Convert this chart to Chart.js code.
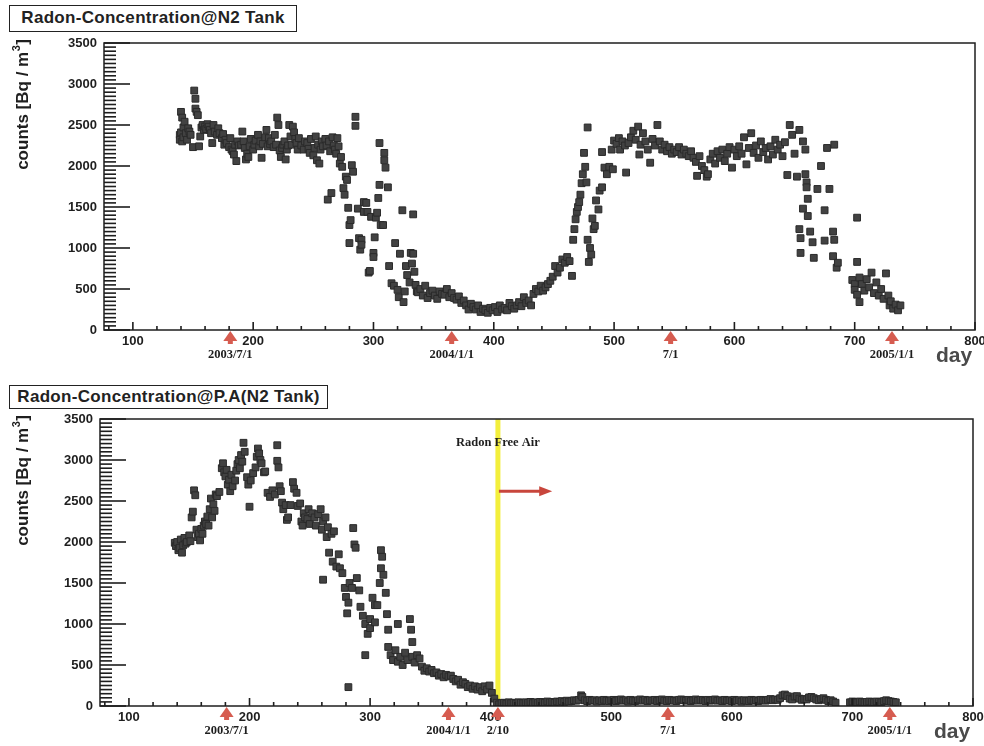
<!DOCTYPE html>
<html>
<head>
<meta charset="utf-8">
<title>Radon concentration</title>
<script src="https://cdn.jsdelivr.net/npm/chart.js@4.4.1/dist/chart.umd.min.js"></script>
<style>
  html, body { margin: 0; padding: 0; background: #fff; }
  body { width: 984px; height: 746px; position: relative; overflow: hidden; font-family: "Liberation Sans", Arial, sans-serif; }
  .panel { position: absolute; left: 0; width: 984px; }
  .title-box {
    position: absolute; z-index: 2; box-sizing: border-box;
    border: 1.5px solid #222; background: #fff; color: #222;
    font-weight: bold; text-align: center; white-space: nowrap;
  }
</style>
</head>
<body>
<div class="title-box" style="left:9px;top:5px;width:288px;height:27px;font-size:17px;line-height:24px;letter-spacing:0.3px;">Radon-Concentration@N2 Tank</div>
<div class="title-box" style="left:9px;top:385px;width:319px;height:24px;font-size:17px;line-height:21px;letter-spacing:0.3px;">Radon-Concentration@P.A(N2 Tank)</div>
<div class="panel" style="top:0;height:375px"><canvas id="tankChart"></canvas></div>
<div class="panel" style="top:375px;height:371px"><canvas id="paChart"></canvas></div>

<script>
// [day, counts in Bq/m3] -- radon in the N2 tank
const n2Tank = [
  [139, 2380], [139, 2320], [140, 2660], [140, 2410], [141, 2590], [141, 2300], [142, 2470], [142, 2350],
  [143, 2540], [144, 2400], [145, 2320], [146, 2460], [147, 2420], [148, 2380], [150, 2230], [151, 2920],
  [152, 2820], [152, 2700], [153, 2660], [154, 2620], [155, 2240], [156, 2360], [157, 2470], [158, 2500],
  [159, 2440], [160, 2480], [161, 2450], [162, 2510], [163, 2480], [164, 2440], [165, 2400], [166, 2280],
  [167, 2500], [168, 2420], [170, 2380], [171, 2460], [172, 2400], [174, 2340], [175, 2390], [176, 2260],
  [177, 2320], [178, 2280], [180, 2230], [181, 2340], [182, 2200], [183, 2180], [184, 2140], [185, 2260],
  [186, 2060], [187, 2300], [188, 2250], [190, 2260], [191, 2420], [192, 2300], [193, 2220], [194, 2080],
  [195, 2150], [196, 2110], [197, 2240], [198, 2330], [200, 2200], [201, 2260], [202, 2310], [204, 2380],
  [205, 2240], [206, 2300], [207, 2100], [208, 2270], [210, 2350], [211, 2440], [212, 2240], [213, 2340],
  [214, 2270], [215, 2300], [217, 2230], [218, 2380], [219, 2260], [220, 2590], [221, 2500], [222, 2190],
  [223, 2110], [224, 2220], [225, 2260], [226, 2300], [227, 2080], [228, 2200], [229, 2250], [230, 2500],
  [231, 2360], [232, 2260], [233, 2480], [234, 2410], [235, 2330], [236, 2280], [237, 2200], [238, 2340],
  [240, 2250], [242, 2200], [243, 2300], [245, 2280], [246, 2210], [247, 2160], [248, 2330], [250, 2130],
  [251, 2220], [252, 2360], [253, 2070], [254, 2260], [255, 2030], [256, 2200], [257, 2300], [258, 2240],
  [260, 2330], [261, 2250], [262, 1590], [263, 2300], [264, 2180], [265, 1670], [266, 2350], [267, 2250],
  [268, 2200], [269, 2150], [270, 2340], [271, 2240], [272, 2030], [273, 2110], [274, 1990], [275, 1730],
  [276, 1650], [277, 1870], [278, 1830], [279, 1490], [280, 1280], [280, 1060], [281, 1340], [282, 2010],
  [283, 1930], [285, 2600], [285, 2490], [287, 1480], [288, 1120], [289, 980], [290, 1100], [290, 1040],
  [292, 1560], [292, 1440], [294, 1550], [295, 1440], [296, 700], [297, 720], [298, 1380], [300, 940],
  [300, 890], [301, 1130], [302, 1370], [303, 1430], [304, 1610], [305, 2280], [305, 1770], [306, 1280],
  [308, 1280], [309, 2160], [309, 2070], [310, 1980], [312, 1740], [313, 780], [315, 570], [317, 540],
  [318, 1060], [320, 490], [321, 400], [322, 930], [324, 1460], [325, 340], [326, 470], [327, 780],
  [328, 670], [330, 580], [331, 940], [332, 810], [333, 1410], [333, 930], [334, 710], [335, 550],
  [336, 470], [337, 460], [339, 500], [341, 420], [343, 540], [345, 390], [347, 450], [349, 480],
  [351, 420], [353, 380], [355, 470], [357, 440], [359, 430], [361, 500], [363, 400], [365, 450],
  [367, 390], [369, 370], [371, 410], [373, 330], [375, 360], [377, 300], [379, 250], [381, 320],
  [383, 280], [385, 250], [387, 300], [389, 220], [391, 260], [393, 240], [395, 210], [397, 270],
  [399, 240], [401, 280], [403, 220], [405, 300], [407, 250], [409, 270], [411, 240], [413, 330],
  [415, 290], [417, 260], [419, 300], [421, 340], [423, 290], [425, 400], [427, 330], [429, 360],
  [431, 300], [433, 440], [435, 500], [437, 470], [439, 540], [441, 480], [443, 520], [445, 560],
  [447, 600], [449, 650], [451, 780], [453, 700], [455, 760], [457, 860], [459, 820], [461, 890],
  [463, 840], [465, 660], [466, 1100], [467, 1230], [468, 1350], [469, 1440], [470, 1500], [471, 1560],
  [472, 1650], [473, 1790], [474, 1900], [475, 2160], [476, 1990], [477, 1800], [478, 2470], [478, 1100],
  [479, 830], [480, 1000], [481, 920], [482, 1360], [483, 1230], [484, 1270], [485, 1580], [487, 1470],
  [488, 1700], [490, 1740], [490, 2170], [492, 1980], [494, 1900], [496, 1990], [498, 2200], [499, 1960],
  [500, 2310], [502, 2270], [504, 2340], [505, 2200], [507, 2300], [509, 2250], [510, 1920], [512, 2280],
  [514, 2350], [516, 2430], [518, 2320], [520, 2480], [521, 2140], [522, 2260], [524, 2400], [526, 2300],
  [528, 2200], [530, 2040], [532, 2330], [534, 2250], [536, 2500], [538, 2300], [540, 2200], [542, 2260],
  [544, 2180], [546, 2230], [548, 2150], [550, 2200], [552, 2170], [554, 2230], [556, 2140], [558, 2200],
  [560, 2150], [562, 2120], [564, 2180], [566, 2100], [568, 2050], [569, 1880], [571, 2120], [573, 2000],
  [575, 1950], [577, 1870], [578, 1900], [580, 2080], [582, 2150], [584, 2030], [586, 2180], [588, 2100],
  [590, 2200], [592, 2060], [594, 2150], [596, 2230], [598, 1980], [600, 2200], [602, 2120], [604, 2240],
  [606, 2150], [608, 2350], [610, 2020], [612, 2220], [614, 2400], [616, 2160], [618, 2250], [620, 2100],
  [622, 2300], [624, 2170], [626, 2220], [628, 2080], [630, 2240], [632, 2140], [634, 2320], [636, 2200],
  [638, 2260], [640, 2120], [642, 2290], [644, 1890], [646, 2500], [648, 2380], [650, 2150], [652, 1870],
  [654, 2440], [654, 1230], [655, 1120], [655, 940], [657, 2300], [657, 1480], [659, 2200], [659, 1900],
  [660, 1800], [660, 1740], [661, 1390], [661, 1600], [663, 1200], [665, 1070], [666, 880], [669, 1720],
  [672, 2000], [675, 1460], [675, 1090], [677, 2220], [679, 1720], [682, 1200], [682, 900], [683, 2260],
  [683, 1100], [685, 760], [686, 820], [698, 610], [700, 560], [700, 490], [702, 1370], [702, 830],
  [702, 430], [704, 340], [704, 640], [706, 560], [708, 480], [710, 620], [712, 520], [714, 700],
  [716, 450], [718, 580], [720, 420], [722, 500], [724, 380], [726, 690], [728, 420], [729, 300],
  [730, 350], [732, 260], [734, 310], [736, 240], [738, 300]
];

// [day, counts in Bq/m3] -- radon at the P.A., N2 tank supply
const paTank = [
  [138, 1990], [139, 1950], [140, 2000], [141, 1900], [142, 1930], [143, 2030], [144, 1870], [145, 1960],
  [146, 2050], [147, 1980], [148, 2000], [150, 2080], [151, 2010], [152, 2300], [153, 2370], [154, 2630],
  [155, 2570], [156, 2150], [157, 2060], [158, 2100], [159, 2020], [160, 2160], [161, 2100], [162, 2200],
  [163, 2250], [164, 2220], [165, 2310], [166, 2200], [167, 2400], [168, 2530], [169, 2300], [170, 2460],
  [171, 2380], [172, 2580], [173, 2560], [175, 2610], [177, 2900], [178, 2960], [179, 2850], [180, 2800],
  [181, 2880], [182, 2700], [183, 2760], [184, 2620], [185, 2820], [186, 2680], [188, 2750], [189, 2870],
  [190, 2950], [191, 3000], [192, 2900], [193, 3060], [194, 2980], [195, 3210], [196, 3100], [198, 2790],
  [199, 2700], [200, 2430], [201, 2750], [203, 2840], [205, 2910], [206, 3040], [207, 3140], [208, 3080],
  [209, 3000], [210, 2960], [212, 2850], [213, 2860], [215, 2600], [217, 2550], [219, 2630], [221, 2580],
  [223, 3180], [223, 2990], [224, 2910], [225, 2680], [226, 2620], [227, 2480], [228, 2400], [230, 2450],
  [231, 2270], [232, 2300], [234, 2450], [236, 2730], [237, 2650], [239, 2600], [240, 2440], [242, 2470],
  [243, 2250], [244, 2200], [245, 2350], [246, 2300], [248, 2280], [249, 2400], [250, 2220], [252, 2350],
  [254, 2300], [255, 2200], [257, 2340], [259, 2400], [260, 2150], [261, 1540], [261, 2250], [263, 2300],
  [264, 2060], [265, 2180], [266, 1870], [268, 2100], [269, 1760], [270, 2130], [272, 1700], [274, 1850],
  [275, 1680], [277, 1620], [279, 1440], [280, 1330], [281, 1130], [282, 230], [282, 1260], [283, 1500],
  [285, 1440], [286, 2170], [287, 1970], [288, 1930], [289, 1560], [291, 1410], [292, 1210], [294, 1100],
  [296, 620], [296, 1000], [298, 880], [300, 950], [300, 1060], [302, 1320], [304, 1020], [304, 1230],
  [306, 1230], [308, 1500], [309, 1680], [309, 1900], [310, 1820], [311, 1600], [313, 1380], [314, 1120],
  [315, 930], [315, 720], [317, 620], [319, 560], [321, 680], [323, 1000], [323, 540], [325, 600],
  [327, 500], [329, 650], [331, 560], [333, 1060], [334, 930], [335, 780], [335, 600], [337, 530],
  [339, 620], [341, 580], [343, 480], [345, 430], [347, 460], [349, 420], [351, 440], [353, 400],
  [355, 410], [357, 370], [359, 390], [361, 350], [363, 380], [365, 360], [367, 370], [369, 330],
  [371, 300], [373, 320], [375, 260], [377, 290], [379, 270], [381, 230], [383, 250], [385, 210],
  [387, 240], [389, 200], [391, 230], [393, 180], [395, 240], [397, 200], [399, 250], [401, 160],
  [403, 90], [405, 40],
  [407, 20], [409, 35], [411, 40], [413, 30], [415, 45], [417, 35], [419, 40], [421, 30],
  [423, 45], [425, 40], [427, 35], [429, 45], [431, 40], [433, 50], [435, 35], [437, 45],
  [439, 40], [441, 50], [443, 45], [445, 40], [447, 55], [449, 45], [451, 50], [453, 40],
  [455, 55], [457, 50], [459, 60], [461, 50], [463, 65], [465, 55], [467, 60], [469, 70],
  [471, 65], [473, 75], [475, 130], [476, 110], [478, 70], [480, 60], [482, 75], [484, 65],
  [486, 70], [488, 55], [490, 70], [492, 60], [494, 75], [496, 65], [498, 60], [500, 70],
  [502, 75], [504, 60], [506, 70], [508, 80], [510, 65], [512, 70], [514, 55], [516, 75],
  [518, 65], [520, 60], [522, 70], [524, 80], [526, 65], [528, 75], [530, 60], [532, 70],
  [534, 65], [536, 75], [538, 60], [540, 70], [542, 80], [544, 65], [546, 60], [548, 75],
  [550, 70], [552, 65], [554, 60], [556, 75], [558, 80], [560, 70], [562, 65], [564, 75],
  [566, 60], [568, 70], [570, 80], [572, 65], [574, 75], [576, 70], [578, 60], [580, 75],
  [582, 65], [584, 70], [586, 80], [588, 65], [590, 70], [592, 60], [594, 75], [596, 65],
  [598, 70], [600, 60], [602, 75], [604, 65], [606, 70], [608, 55], [610, 70], [612, 65],
  [614, 60], [616, 75], [618, 65], [620, 70], [622, 60], [624, 75], [626, 70], [628, 65],
  [630, 75], [632, 85], [634, 70], [636, 80], [638, 75], [640, 95], [642, 130], [644, 140],
  [646, 120], [648, 90], [650, 80], [652, 115], [654, 120], [656, 90], [658, 75], [660, 85],
  [662, 80], [664, 105], [666, 110], [668, 95], [670, 80], [672, 70], [674, 85], [676, 95],
  [678, 75], [680, 60], [682, 70], [684, 55], [686, 40],
  [698, 45], [700, 55], [702, 50], [704, 45], [706, 55], [708, 50], [710, 45], [712, 50],
  [714, 55], [716, 50], [718, 45], [720, 55], [722, 50], [724, 45], [726, 60], [728, 70],
  [730, 60], [732, 55], [734, 50], [736, 45]
];

// calendar markers under the day axis
const markDays = [181, 365, 547, 731];
const markLabels = ['2003/7/1', '2004/1/1', '7/1', '2005/1/1'];
const freeAirDay = 406;   // switch to radon free air (2/10)
const freeAirLabel = '2/10';

const yTicks = { min: 0, max: 3500, step: 500, minor: 50 };
const dayRange = { min: 76, max: 800, step: 100, minor: 20 };

const SANS = '"Liberation Sans", Arial, Helvetica, sans-serif';
const SERIF = '"Liberation Serif", "Times New Roman", serif';

// ROOT style frame, inner ticks, date arrows, axis titles
const rootFrame = {
  id: 'rootFrame',
  beforeDatasetsDraw(chart, args, o) {
    if (o.freeAir == null) return;
    const { ctx, chartArea: a } = chart;
    const px = chart.scales.x.getPixelForValue(o.freeAir);
    ctx.save();
    ctx.fillStyle = '#f3ef3c';
    ctx.fillRect(px - 2.5, a.top, 5, a.bottom - a.top);
    ctx.restore();
  },
  afterDraw(chart, args, o) {
    const ctx = chart.ctx;
    const a = chart.chartArea;
    const xs = chart.scales.x;
    const ys = chart.scales.y;
    ctx.save();

    ctx.strokeStyle = '#1e1e1e';
    ctx.lineWidth = 1.5;
    ctx.strokeRect(a.left, a.top, a.right - a.left, a.bottom - a.top);

    // inner tick marks
    ctx.fillStyle = '#1e1e1e';
    for (let v = yTicks.min; v <= yTicks.max; v += yTicks.minor) {
      const py = ys.getPixelForValue(v);
      const len = v % yTicks.step === 0 ? 26 : 12;
      ctx.fillRect(a.left, py - 0.8, len, 1.6);
    }
    for (let d = 80; d <= dayRange.max; d += dayRange.minor) {
      const px = xs.getPixelForValue(d);
      const len = d % dayRange.step === 0 ? 8 : 4;
      ctx.fillRect(px - 0.8, a.bottom - len, 1.6, len);
    }

    // "Radon Free Air" note with arrow
    if (o.freeAir != null) {
      const px = xs.getPixelForValue(o.freeAir);
      ctx.fillStyle = '#1e1e1e';
      ctx.font = 'bold 12.5px ' + SERIF;
      ctx.textAlign = 'center';
      ctx.textBaseline = 'middle';
      ctx.fillText('Radon Free Air', px, a.top + 24);

      const ay = ys.getPixelForValue(o.arrowLevel);
      const ax1 = xs.getPixelForValue(o.arrowTo);
      ctx.strokeStyle = '#c8463c';
      ctx.fillStyle = '#c8463c';
      ctx.lineWidth = 3;
      ctx.beginPath();
      ctx.moveTo(px + 1, ay);
      ctx.lineTo(ax1 - 10, ay);
      ctx.stroke();
      ctx.beginPath();
      ctx.moveTo(ax1, ay);
      ctx.lineTo(ax1 - 13, ay - 5);
      ctx.lineTo(ax1 - 13, ay + 5);
      ctx.closePath();
      ctx.fill();
    }

    // date arrows below the axis
    o.marks.forEach(m => {
      const px = xs.getPixelForValue(m.day);
      ctx.fillStyle = '#d65c50';
      ctx.beginPath();
      ctx.moveTo(px, a.bottom + 1);
      ctx.lineTo(px + 7, a.bottom + 11);
      ctx.lineTo(px - 7, a.bottom + 11);
      ctx.closePath();
      ctx.fill();
      ctx.fillRect(px - 2.5, a.bottom + 10, 5, 4);
      ctx.fillStyle = '#1e1e1e';
      ctx.font = 'bold 12.5px ' + SERIF;
      ctx.textAlign = 'center';
      ctx.textBaseline = 'middle';
      ctx.fillText(m.label, px, a.bottom + 25);
    });

    // "day" title
    ctx.fillStyle = '#4a4a4a';
    ctx.font = 'bold 21px ' + SANS;
    ctx.textAlign = 'left';
    ctx.textBaseline = 'alphabetic';
    ctx.fillText('day', a.right - 39, a.bottom + 32);

    // y title, rotated, with superscript 3
    ctx.translate(28, a.top - 4);
    ctx.rotate(-Math.PI / 2);
    ctx.fillStyle = '#1e1e1e';
    const main = 'counts [Bq / m';
    ctx.font = 'bold 17px ' + SANS;
    const w1 = ctx.measureText(main).width;
    const w3 = ctx.measureText(']').width;
    ctx.font = 'bold 11px ' + SANS;
    const w2 = ctx.measureText('3').width;
    const x0 = -(w1 + w2 + w3 + 1);
    ctx.font = 'bold 17px ' + SANS;
    ctx.fillText(main, x0, 0);
    ctx.fillText(']', x0 + w1 + w2 + 1, 0);
    ctx.font = 'bold 11px ' + SANS;
    ctx.fillText('3', x0 + w1 + 0.5, -8);

    ctx.restore();
  }
};

function buildChart(id, points, opts) {
  const marks = markDays.map((d, i) => ({ day: d, label: markLabels[i] }));
  if (opts.freeAir != null) {
    marks.push({ day: opts.freeAir, label: freeAirLabel });
  }
  return new Chart(document.getElementById(id), {
    type: 'scatter',
    data: {
      datasets: [{
        data: points.map(p => ({ x: p[0], y: p[1] })),
        pointStyle: 'rect',
        pointRadius: 4.8,
        backgroundColor: '#424242',
        borderColor: '#2a2a2a',
        borderWidth: 1,
      }]
    },
    options: {
      responsive: true,
      maintainAspectRatio: false,
      animation: false,
      devicePixelRatio: 1,
      layout: { padding: { left: 0, top: opts.top, right: opts.right, bottom: 0 } },
      plugins: {
        legend: { display: false },
        tooltip: { enabled: false },
        rootFrame: {
          marks: marks,
          freeAir: opts.freeAir,
          arrowTo: 451,
          arrowLevel: 2620,
        },
      },
      scales: {
        x: {
          type: 'linear',
          min: dayRange.min,
          max: dayRange.max,
          grid: { display: false, drawTicks: false },
          border: { display: false },
          ticks: {
            stepSize: dayRange.step,
            includeBounds: false,
            maxRotation: 0,
            autoSkip: false,
            padding: 4,
            color: '#1e1e1e',
            font: { family: SANS, size: 13, weight: 'bold' },
            callback: v => String(v),
          },
          afterFit(s) {
            s.height = opts.xHeight;
            s.paddingLeft = 0;
            s.paddingRight = 0;
          },
        },
        y: {
          min: yTicks.min,
          max: yTicks.max,
          grid: { display: false, drawTicks: false },
          border: { display: false },
          ticks: {
            stepSize: yTicks.step,
            padding: 7,
            color: '#1e1e1e',
            font: { family: SANS, size: 13, weight: 'bold' },
            callback: v => String(v),
          },
          afterFit(s) {
            s.width = opts.left;
            s.paddingTop = 0;
            s.paddingBottom = 0;
          },
        },
      },
    },
    plugins: [rootFrame],
  });
}

buildChart('tankChart', n2Tank, { left: 104, top: 43, right: 9, xHeight: 45 });
buildChart('paChart', paTank, { left: 100, top: 44, right: 11, xHeight: 40, freeAir: freeAirDay });
</script>
</body>
</html>
